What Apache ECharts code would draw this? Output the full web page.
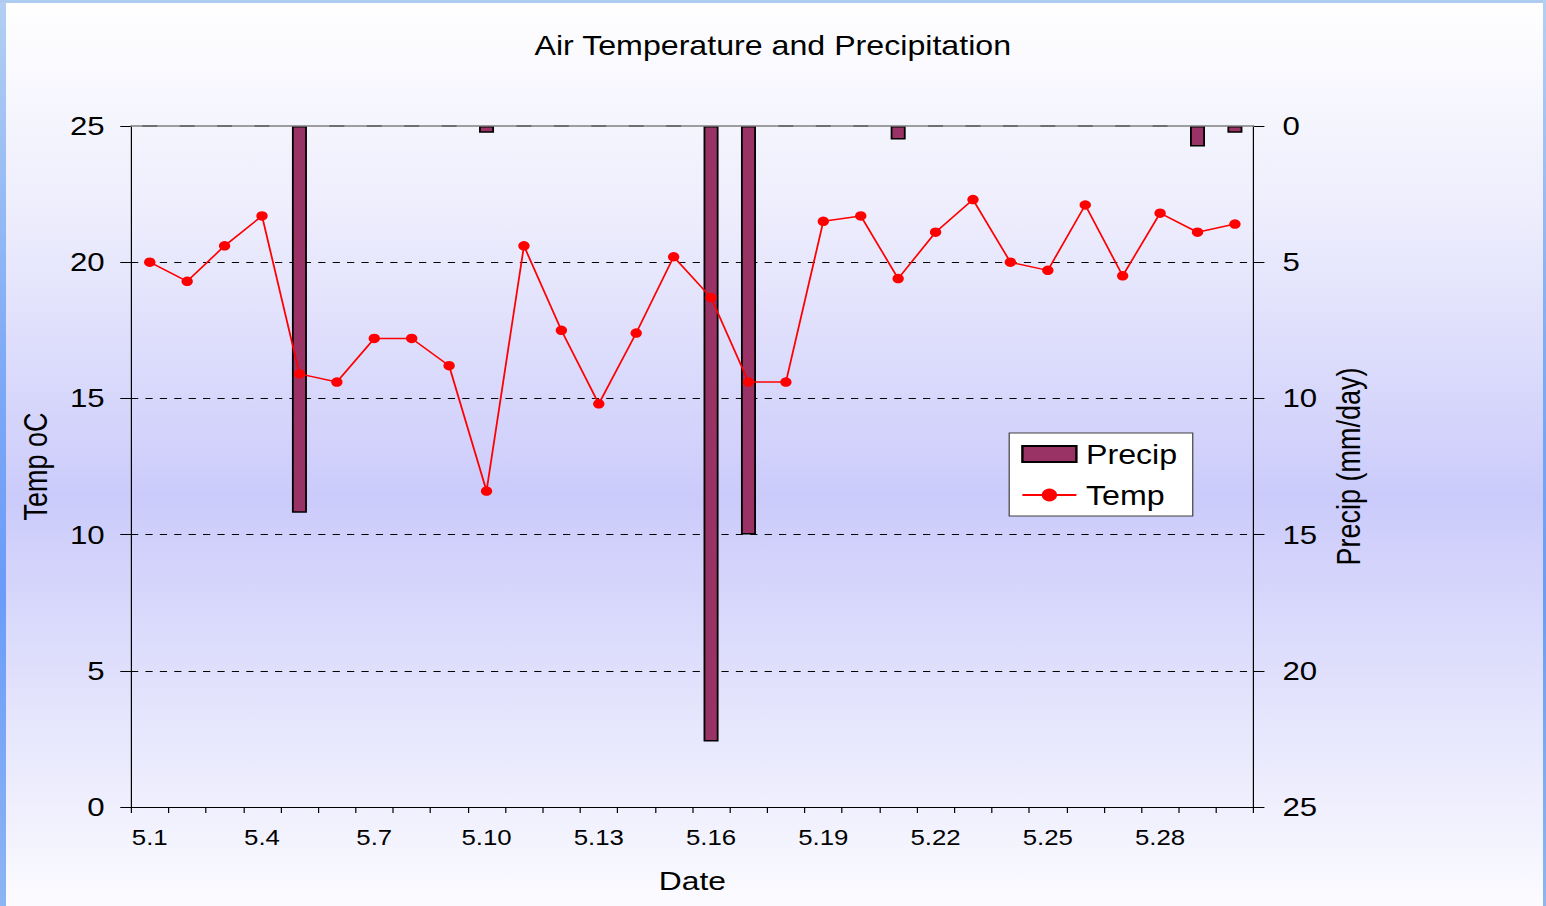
<!DOCTYPE html>
<html>
<head>
<meta charset="utf-8">
<script src="https://cdn.jsdelivr.net/npm/echarts@6/dist/echarts.min.js"></script>
<style>
  html, body { margin: 0; padding: 0; background: #ffffff; }
  #wrap { position: relative; width: 1546px; height: 906px; overflow: hidden; }
  #chart { position: absolute; left: 0; top: 0; width: 1288.33px; height: 906px;
           transform: scaleX(1.2); transform-origin: 0 0; }
  .frame { position: absolute; }
  #fl { left: 0; top: 0; width: 6px; height: 906px;
        background: linear-gradient(to bottom, #b3cff3 0%, #7eaaf6 40%, #6a9cf8 65%, #8db5f3 100%); }
  #ft { left: 0; top: 0; width: 1546px; height: 3px; background: #aecbf2; }
  #fr { left: 1543px; top: 0; width: 3px; height: 906px;
        background: linear-gradient(to bottom, #b3cff3 0%, #7eaaf6 40%, #6a9cf8 65%, #8db5f3 100%); }
</style>
</head>
<body>
<div id="wrap">
  <div id="chart"></div>
  <div class="frame" id="fl"></div>
  <div class="frame" id="ft"></div>
  <div class="frame" id="fr"></div>
</div>
<script>
// ---- data ----
const dates = ['5.1','5.2','5.3','5.4','5.5','5.6','5.7','5.8','5.9','5.10',
               '5.11','5.12','5.13','5.14','5.15','5.16','5.17','5.18','5.19','5.20',
               '5.21','5.22','5.23','5.24','5.25','5.26','5.27','5.28','5.29','5.30'];
const temp = [20.0, 19.3, 20.6, 21.7, 15.9, 15.6, 17.2, 17.2, 16.2, 11.6,
              20.6, 17.5, 14.8, 17.4, 20.2, 18.7, 15.6, 15.6, 21.5, 21.7,
              19.4, 21.1, 22.3, 20.0, 19.7, 22.1, 19.5, 21.8, 21.1, 21.4];
const precip = [0, 0, 0, 0, 14.2, 0, 0, 0, 0, 0.25,
                0, 0, 0, 0, 0, 22.6, 15.0, 0, 0, 0,
                0.5, 0, 0, 0, 0, 0, 0, 0, 0.75, 0.25];
const tempTicks = { min: 0, max: 25, interval: 5 };
const precipTicks = { min: 0, max: 25, interval: 5 };

const FONT = "'Liberation Sans', Arial, sans-serif";

const chart = echarts.init(document.getElementById('chart'), null, { renderer: 'svg' });

chart.setOption({
  animation: false,
  backgroundColor: {
    type: 'linear', x: 0, y: 0, x2: 0, y2: 1,
    colorStops: [
      { offset: 0, color: '#ffffff' },
      { offset: 0.25, color: '#ececfd' },
      { offset: 0.55, color: '#cbcbfb' },
      { offset: 0.8, color: '#e6e6fd' },
      { offset: 1, color: '#fbfbff' }
    ]
  },
  textStyle: { fontFamily: FONT, color: '#000' },
  title: {
    text: 'Air Temperature and Precipitation',
    left: 'center',
    top: 27,
    textStyle: { fontFamily: FONT, fontSize: 26.8, fontWeight: 'normal', color: '#000' }
  },
  legend: {
    orient: 'vertical',
    left: 841,
    top: 433,
    padding: [7, 13, 7, 10],
    itemGap: 13,
    itemWidth: 45,
    itemHeight: 16,
    backgroundColor: '#ffffff',
    borderColor: '#404040',
    borderWidth: 1,
    borderRadius: 0,
    textStyle: { fontFamily: FONT, fontSize: 26.8, color: '#000', lineHeight: 28, padding: [0, 0, 0, 3] },
    data: [{ name: 'Precip', icon: 'rect' }, { name: 'Temp' }]
  },
  grid: {
    left: 109.2,
    right: 243.3,
    top: 126,
    bottom: 99,
    containLabel: false,
    outerBoundsMode: 'none'
  },
  xAxis: [
    {
      type: 'category',
      data: dates,
      position: 'bottom',
      boundaryGap: true,
      name: 'Date',
      nameLocation: 'middle',
      nameGap: 60,
      nameTextStyle: { fontFamily: FONT, fontSize: 26.5, color: '#000' },
      axisLine: { show: true, onZero: false, lineStyle: { color: '#000', width: 1 } },
      axisTick: { show: true, interval: 0, length: 6, inside: false, lineStyle: { color: '#000' } },
      axisLabel: { interval: 2, fontFamily: FONT, fontSize: 21.5, color: '#000', margin: 20 },
      splitLine: { show: false }
    },
    {
      type: 'category',
      data: dates,
      position: 'top',
      z: 5,
      axisLine: { show: true, onZero: false, lineStyle: { color: '#808080', width: 1.5 } },
      axisTick: { show: false },
      axisLabel: { show: false },
      splitLine: { show: false }
    }
  ],
  yAxis: [
    {
      type: 'value',
      position: 'left',
      min: tempTicks.min,
      max: tempTicks.max,
      interval: tempTicks.interval,
      name: 'Temp oC',
      nameLocation: 'middle',
      nameRotate: 90,
      nameGap: 66,
      nameTextStyle: { fontFamily: FONT, fontSize: 27, color: '#000' },
      axisLine: { show: true, onZero: false, lineStyle: { color: '#000', width: 1 } },
      axisTick: { show: true, length: 9, inside: false, lineStyle: { color: '#000' } },
      axisLabel: { fontFamily: FONT, fontSize: 26, color: '#000', margin: 22 },
      splitLine: { show: true,
                   lineStyle: { color: ['#000', '#000', '#000', '#000', '#000', 'rgba(0,0,0,0)'],
                                type: [6, 6], width: 1 } }
    },
    {
      type: 'value',
      position: 'right',
      inverse: true,
      min: precipTicks.min,
      max: precipTicks.max,
      interval: precipTicks.interval,
      name: 'Precip (mm/day)',
      nameLocation: 'middle',
      nameRotate: 90,
      nameGap: 66,
      nameTextStyle: { fontFamily: FONT, fontSize: 27, color: '#000' },
      axisLine: { show: true, onZero: false, lineStyle: { color: '#000', width: 1 } },
      axisTick: { show: true, length: 9, inside: false, lineStyle: { color: '#000' } },
      axisLabel: { fontFamily: FONT, fontSize: 26, color: '#000', margin: 24 },
      splitLine: { show: false }
    }
  ],
  series: [
    {
      name: 'Precip',
      type: 'bar',
      xAxisIndex: 0,
      yAxisIndex: 1,
      data: precip,
      barWidth: 12.5,
      z: 2,
      itemStyle: { color: '#993366', borderColor: '#000000', borderWidth: 1.5 }
    },
    {
      name: 'Temp',
      type: 'line',
      xAxisIndex: 0,
      yAxisIndex: 0,
      data: temp,
      z: 4,
      symbol: 'circle',
      symbolSize: 9.5,
      showAllSymbol: true,
      lineStyle: { color: '#ff0000', width: 1.5 },
      itemStyle: { color: '#ff0000' }
    }
  ]
});
</script>
</body>
</html>
